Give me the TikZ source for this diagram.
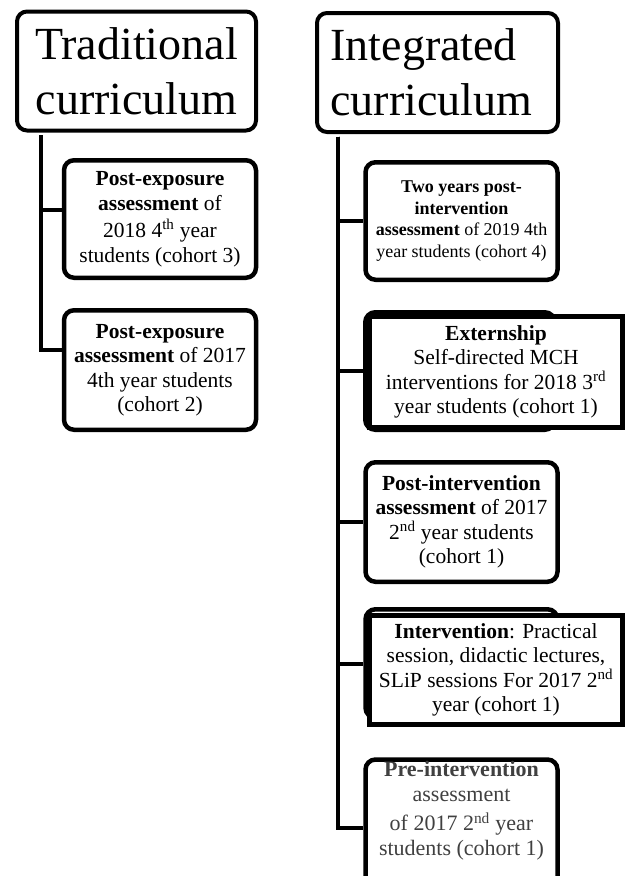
\documentclass[tikz,border=0pt]{standalone}
\usepackage{fontspec}
\setmainfont{Liberation Serif}
\usetikzlibrary{positioning}

\begin{document}
\begin{tikzpicture}[x=1pt,y=-1pt]
    \tikzstyle{title_style} = [draw=black,line width=4pt,rounded corners=10pt,minimum width=239pt,minimum height=119pt,inner sep=0pt,font=\fontsize{46}{55}\selectfont]
    \tikzstyle{box_style} = [draw=black,line width=4.5pt,rounded corners=10pt,minimum width=192pt,minimum height=117.5pt,align=center,inner sep=0pt,font=\fontsize{21.5}{24.5}\selectfont]
    \tikzstyle{frame_style} = [draw=black,fill=white,line width=5pt,minimum width=253pt,minimum height=111pt,align=center,inner sep=0pt,font=\fontsize{21.5}{24.5}\selectfont]
    \tikzstyle{edge_style} = [draw=black,line width=4pt]
    \useasboundingbox (0,0) rectangle (629,876);
    \clip (0,0) rectangle (629,876);
        % the two curricula
        \node[title_style,align=center] (trad) at (136.5,71) {Traditional\\curriculum};
        \node[title_style,align=left,text width=214pt,minimum width=241pt] (integ) at (437.5,72.5) {Integrated\\curriculum};
        \coordinate (tstem) at ([xshift=-95.5pt,yshift=-2.5pt]trad.south);
        \coordinate (istem) at ([xshift=-99.5pt,yshift=-2.5pt]integ.south);
        % traditional side
        \node[box_style] (t1) at (160,219) {\textbf{Post-exposure}\\\textbf{assessment} of\\[3pt]2018 4\textsuperscript{th} year\\students (cohort 3)};
        \node[box_style,minimum height=119.5pt] (t2) at (160,370) {\textbf{Post-exposure}\\\textbf{assessment} of 2017\\4th year students\\(cohort 2)};
        \draw[edge_style] (tstem) |- ([yshift=9pt]t1.west);
        \draw[edge_style] (tstem) |- ([yshift=20pt]t2.west);
        % integrated side
        \node[box_style,font=\fontsize{18}{21.5}\selectfont] (i1) at (461.5,221) {\textbf{Two years post-}\\\textbf{intervention}\\\textbf{assessment} of 2019 4th\\year students (cohort 4)};
        \node[box_style,minimum width=189.5pt] (i2) at (460,371) {};
        \node[frame_style] (i2text) at (496,372) {\textbf{Externship}\\Self-directed MCH\\interventions for 2018 3\textsuperscript{rd}\\year students (cohort 1)};
        \node[box_style,minimum height=119.5pt] (i3) at (461.5,522) {\textbf{Post-intervention}\\\textbf{assessment} of 2017\\2\textsuperscript{nd} year students\\(cohort 1)};
        \node[box_style,minimum height=108.5pt] (i4) at (461.5,663.5) {};
        \node[frame_style,minimum height=109pt] (i4text) at (496,670) {\textbf{Intervention}: Practical\\session, didactic lectures,\\SLiP sessions For 2017 2\textsuperscript{nd}\\year (cohort 1)};
        \node[box_style,minimum height=137pt,text=black!75,font=\fontsize{22}{25}\selectfont] (i5) at (461.5,828) {\textbf{Pre-intervention}\\assessment\\[4pt]of 2017 2\textsuperscript{nd} year\\students (cohort 1)\\[14pt]};
        \draw[edge_style] (istem) |- (i1.west);
        \draw[edge_style] (istem) |- (i2.west);
        \draw[edge_style] (istem) |- (i3.west);
        \draw[edge_style] (istem) |- (i4.west);
        \draw[edge_style] (istem) |- (i5.west);
\end{tikzpicture}
\end{document}
